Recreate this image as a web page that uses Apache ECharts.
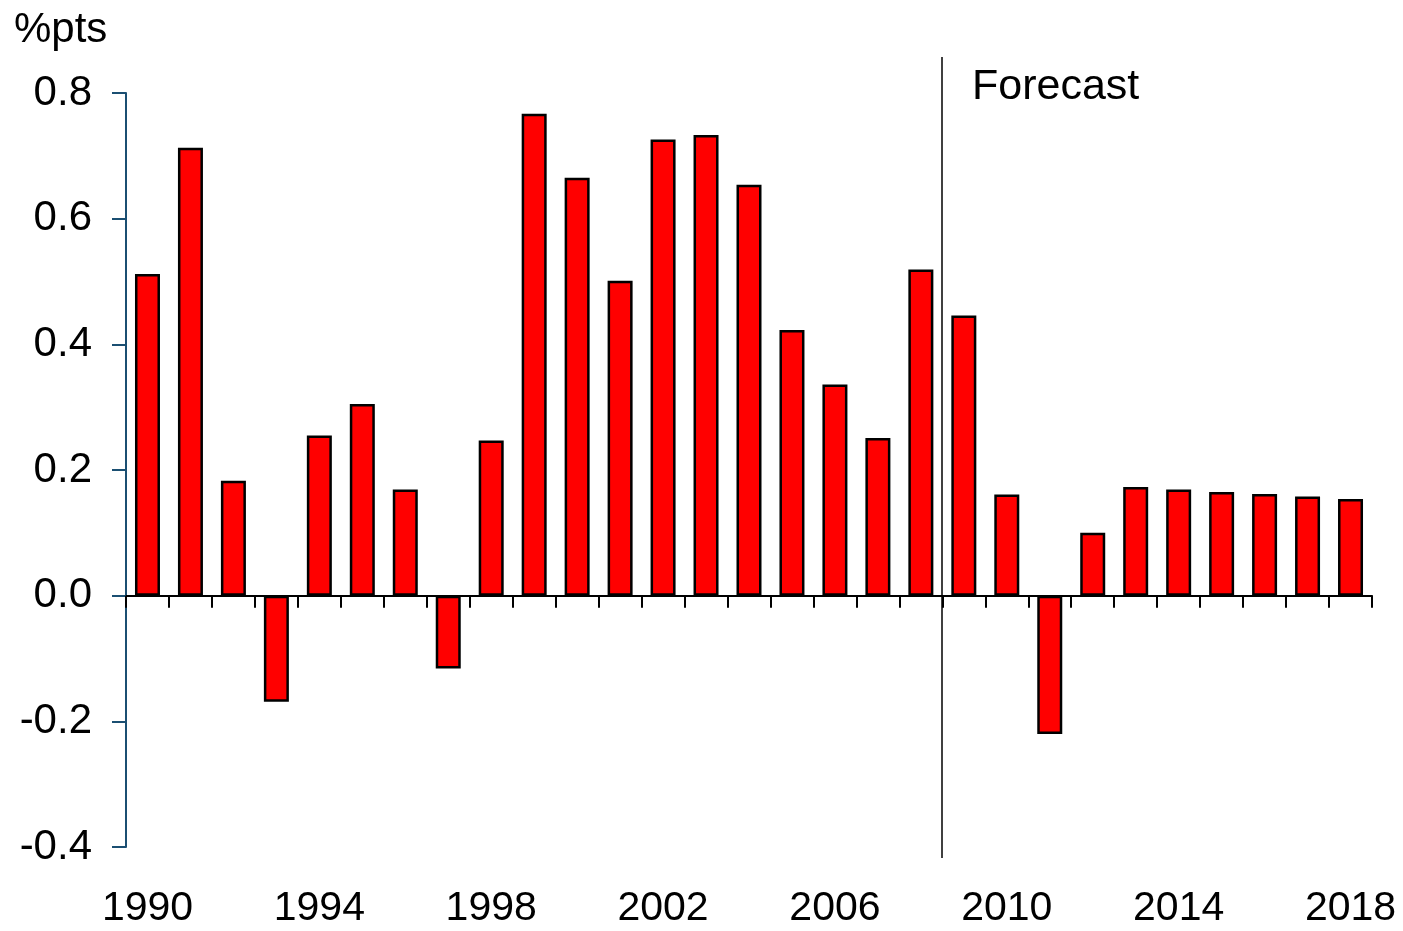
<!DOCTYPE html>
<html><head><meta charset="utf-8">
<script src="https://cdn.jsdelivr.net/npm/echarts@6/dist/echarts.min.js"></script>
<style>html,body{margin:0;padding:0;background:#fff}#c{width:1403px;height:931px}</style>
</head><body><div id="c"></div>
<script>
const years = ['1990','1991','1992','1993','1994','1995','1996','1997','1998','1999','2000','2001','2002','2003','2004','2005','2006','2007','2008','2009','2010','2011','2012','2013','2014','2015','2016','2017','2018'];
const values = [0.512,0.713,0.183,-0.169,0.255,0.305,0.169,-0.116,0.247,0.767,0.665,0.501,0.726,0.733,0.654,0.423,0.336,0.251,0.519,0.446,0.161,-0.220,0.100,0.173,0.169,0.165,0.162,0.158,0.154];
const yTicks = ['-0.4','-0.2','0.0','0.2','0.4','0.6','0.8'];
const forecastStart = '2009';
const unitLabel = '%pts';
const forecastLabel = 'Forecast';

const FONT = 'Liberation Sans, Arial, sans-serif';
const chart = echarts.init(document.getElementById('c'));
const option = {
  animation: false,
  backgroundColor: '#fff',
  grid: {left: 126, right: 31, top: 93, bottom: 84},
  xAxis: [{
    type: 'category', data: years, boundaryGap: true,
    axisLine: {onZero: true, lineStyle: {color: '#000', width: 2}},
    axisTick: {show: true, interval: 0, length: 12, lineStyle: {color: '#000', width: 2}},
    axisLabel: {show: false},
    splitLine: {show: false}
  }, {
    type: 'category', data: years, boundaryGap: true, position: 'bottom',
    axisLine: {show: false, onZero: false},
    axisTick: {show: false},
    axisLabel: {interval: 3, margin: 41, fontSize: 41, color: '#000', fontFamily: FONT},
    splitLine: {show: false}
  }],
  yAxis: {
    type: 'value', min: -0.4, max: 0.8, interval: 0.2,
    axisLine: {show: true, lineStyle: {color: '#1b4f72', width: 2}},
    axisTick: {show: true, length: 14, lineStyle: {color: '#1b4f72', width: 2}},
    axisLabel: {margin: 34, fontSize: 42, color: '#000', fontFamily: FONT,
      formatter: v => yTicks.find(t => Math.abs(parseFloat(t) - v) < 1e-6) || v.toFixed(1)},
    splitLine: {show: false}
  },
  series: [{
    type: 'bar', xAxisIndex: 0, data: values, barWidth: 25,
    itemStyle: {color: '#ff0000', borderColor: '#000', borderWidth: 2.5},
    z: 1
  }]
};
chart.setOption(option);

const xA = chart.convertToPixel({xAxisIndex: 0}, years[years.indexOf(forecastStart) - 1]);
const xB = chart.convertToPixel({xAxisIndex: 0}, forecastStart);
const xLine = Math.round((xA + xB) / 2);
const yTop = chart.convertToPixel({yAxisIndex: 0}, 0.8);
const yBot = chart.convertToPixel({yAxisIndex: 0}, -0.4);
chart.setOption({
  graphic: [
    {type: 'line', shape: {x1: xLine, y1: yTop - 36, x2: xLine, y2: yBot + 11}, style: {stroke: '#000', lineWidth: 1.5}, z: 10},
    {type: 'text', left: xLine + 30, top: yTop - 27, style: {text: forecastLabel, fontSize: 43, fill: '#000', fontFamily: FONT}, z: 10},
    {type: 'text', left: 14, top: 9, style: {text: unitLabel, fontSize: 42, fill: '#000', fontFamily: FONT}, z: 10}
  ]
});
</script>
</body></html>
